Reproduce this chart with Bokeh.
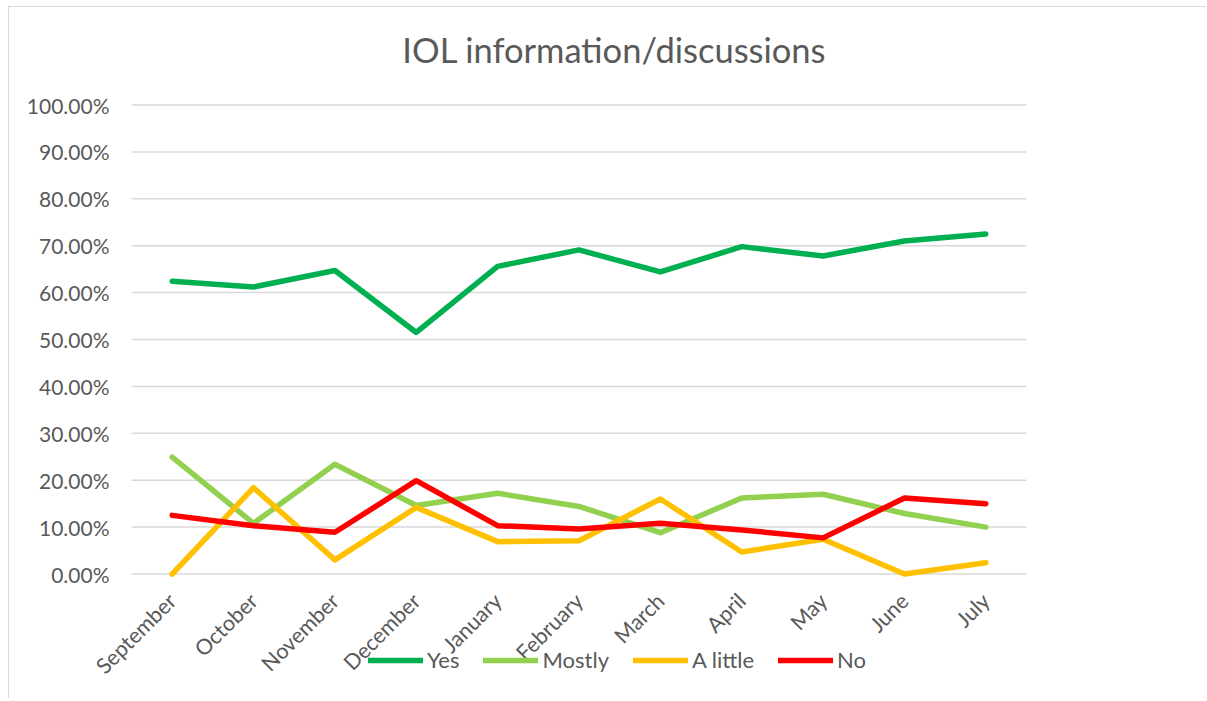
from math import pi
from bokeh.plotting import figure
from bokeh.models import (Range1d, FactorRange, NumeralTickFormatter, Legend, LegendItem,
                          FixedTicker, Label, ColumnDataSource)
from bokeh.embed import file_html
from bokeh.resources import INLINE

months = ["September", "October", "November", "December", "January", "February",
          "March", "April", "May", "June", "July"]
yes = [0.624, 0.612, 0.647, 0.515, 0.656, 0.691, 0.644, 0.698, 0.678, 0.710, 0.725]
mostly = [0.249, 0.108, 0.234, 0.146, 0.172, 0.144, 0.088, 0.162, 0.170, 0.129, 0.100]
a_little = [0.0, 0.184, 0.030, 0.142, 0.069, 0.071, 0.160, 0.047, 0.074, 0.0, 0.024]
no = [0.125, 0.103, 0.089, 0.199, 0.103, 0.096, 0.108, 0.094, 0.077, 0.162, 0.150]
y_ticks = [0.0, 0.1, 0.2, 0.3, 0.4, 0.5, 0.6, 0.7, 0.8, 0.9, 1.0]

series = [("Yes", yes, "#00B050"), ("Mostly", mostly, "#92D050"),
          ("A little", a_little, "#FFC000"), ("No", no, "#FF0000")]

FONT = "Lato"
TXT = "#595959"
GRID = "#d9d9d9"

# The frame covers the whole canvas so that the title, the rotated month labels,
# the value labels and the legend (which overlaps the month labels, as in the original)
# are all drawn inside it without being clipped.
x_range = FactorRange(*months, range_padding=1.4995, range_padding_units="absolute")
p = figure(x_range=x_range, y_range=Range1d(-0.26759, 1.20789), width=1198, height=692,
           output_backend="svg", toolbar_location=None,
           min_border_left=0, min_border_right=59,
           min_border_top=0, min_border_bottom=0,
           styles={"margin-left": "8px", "margin-top": "6px",
                   "border-left": "1px solid #d9d9d9", "border-top": "1px solid #d9d9d9"})
p.outline_line_color = None
p.background_fill_color = "white"
p.border_fill_color = "white"
p.xgrid.visible = False
p.ygrid.visible = False

# horizontal gridlines across the plot area only (first to last month slot)
grid_src = ColumnDataSource(dict(
    x0=[(months[0], -0.5)] * len(y_ticks),
    x1=[(months[-1], 0.5)] * len(y_ticks),
    y=y_ticks))
p.segment(x0="x0", y0="y", x1="x1", y1="y", source=grid_src,
          line_color=GRID, line_width=1.5)

p.yaxis.fixed_location = 0
p.yaxis.ticker = FixedTicker(ticks=y_ticks)
p.yaxis.formatter = NumeralTickFormatter(format="0.00%")
p.yaxis.axis_line_color = None
p.yaxis.major_tick_line_color = None
p.yaxis.minor_tick_line_color = None
p.yaxis.major_tick_out = 0
p.yaxis.major_label_standoff = 22
p.yaxis.major_label_text_font = FONT
p.yaxis.major_label_text_font_size = "21px"
p.yaxis.major_label_text_color = TXT

p.xaxis.fixed_location = 0
p.xaxis.axis_line_color = None
p.xaxis.major_tick_line_color = None
p.xaxis.major_tick_out = 0
p.xaxis.major_label_orientation = pi / 4
p.xaxis.major_label_standoff = 23
p.xaxis.major_label_text_font = FONT
p.xaxis.major_label_text_font_size = "21.5px"
p.xaxis.major_label_text_color = TXT

items = []
for name, vals, col in series:
    r = p.line(months, vals, line_width=5.5, line_color=col, line_cap="round", line_join="round")
    items.append(LegendItem(label=name, renderers=[r]))

legend = Legend(items=items, orientation="horizontal", location=(359, 26),
                glyph_width=55, glyph_height=20, label_standoff=4, spacing=24,
                padding=0, margin=0, border_line_color=None, background_fill_alpha=0,
                label_text_font=FONT, label_text_font_size="22px", label_text_color=TXT)
p.add_layout(legend)

title = Label(x=5.936, y=1.1183, x_units="data", y_units="data",
              text="IOL information/discussions", text_align="center",
              text_baseline="alphabetic", text_font=FONT, text_font_size="34.5px",
              text_color=TXT)
p.add_layout(title)

open("out.html", "w").write(file_html(p, INLINE))
